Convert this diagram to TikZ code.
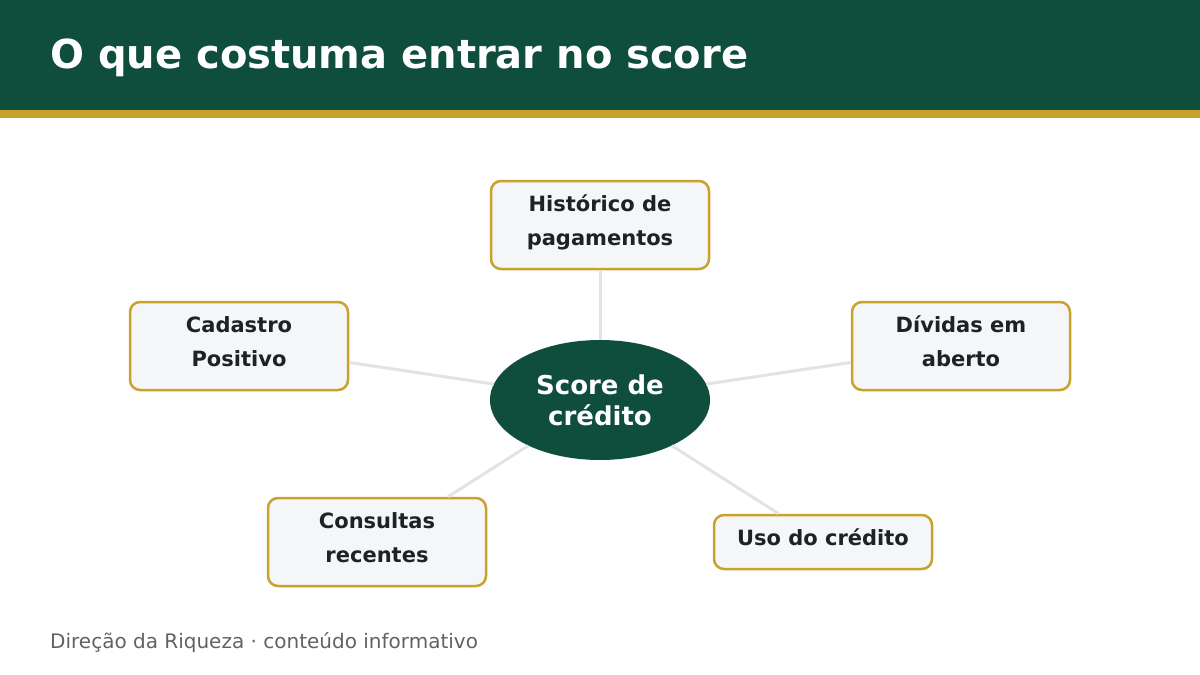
\documentclass[tikz,border=0pt]{standalone}
\usepackage{fontspec}
\setmainfont{DejaVu Sans}
\usetikzlibrary{positioning,shapes.geometric}
\definecolor{darkgreen}{HTML}{0F4D3C}
\definecolor{gold}{HTML}{C9A22B}
\definecolor{boxfill}{HTML}{F4F6F8}
\definecolor{inktxt}{HTML}{1E2126}
\definecolor{linkgray}{HTML}{E2E3E3}
\definecolor{footgray}{HTML}{5F6368}
\tikzset{
  factor/.style ={draw=gold, line width=2.5pt, rounded corners=10pt,
                  fill=boxfill, minimum width=218pt, minimum height=88pt,
                  inner sep=0pt, align=center, text=inktxt,
                  font=\fontsize{21}{34}\selectfont\bfseries,
                  execute at end node={\rule[-9pt]{0pt}{0pt}}},
  hub/.style    ={ellipse, fill=darkgreen, minimum width=220pt,
                  minimum height=120pt, inner sep=0pt, align=center,
                  text=white, font=\fontsize{26}{31}\selectfont\bfseries},
  link/.style   ={line width=3pt, linkgray},
  titletxt/.style={anchor=base west, inner sep=0pt, text=white,
                  font=\fontsize{40}{48}\selectfont\bfseries},
  foottxt/.style={anchor=base west, inner sep=0pt, text=footgray,
                  font=\fontsize{20}{24}\selectfont},
}
\begin{document}
\begin{tikzpicture}[x=1pt, y=-1pt]
  \useasboundingbox (0,0) rectangle (1200,675);
  % header
  \fill[darkgreen] (0,0) rectangle (1200,110);
  \fill[gold] (0,110) rectangle (1200,118);
  \node[titletxt] (title) at (50,68) {O que costuma entrar no score};
  % hub and factors
  \node[hub] (score) at (600,400) {Score de\\crédito};
  \node[factor] (hist) at (600,225) {Histórico de\\pagamentos};
  \node[factor] (cad) at (239,346) {Cadastro\\Positivo};
  \node[factor] (div) at (961,346) {Dívidas em\\aberto};
  \node[factor] (cons) at (377,542) {Consultas\\recentes};
  \node[factor, minimum height=54pt] (uso) at (823,542) {Uso do crédito};
  \draw[link] (score) -- (hist);
  \draw[link] (score) -- (cad);
  \draw[link] (score) -- (div);
  \draw[link] (score) -- (cons);
  \draw[link] (score) -- (uso);
  % footer
  \node[foottxt] (foot) at (50,648) {Direção da Riqueza · conteúdo informativo};
\end{tikzpicture}
\end{document}
